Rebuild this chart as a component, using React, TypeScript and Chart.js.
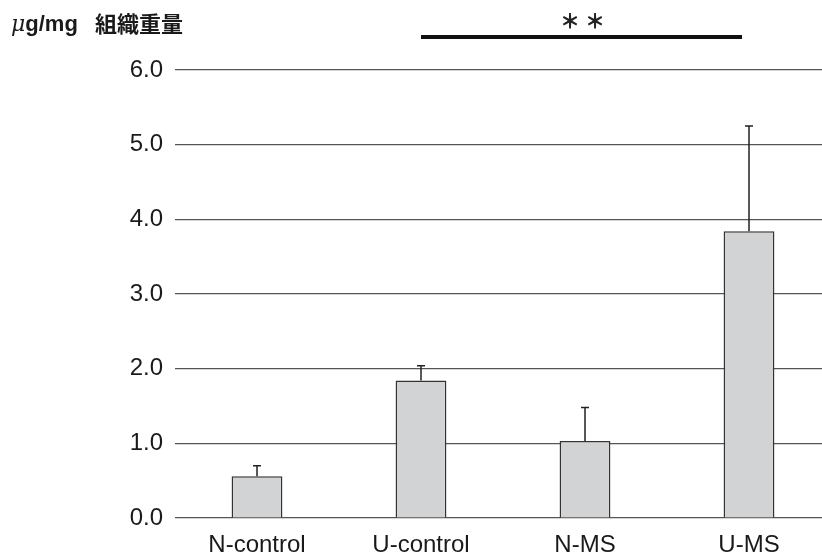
import React, { useEffect, useRef } from "react";
import { Chart, registerables } from "chart.js";

Chart.register(...registerables);

const categories = ["N-control", "U-control", "N-MS", "U-MS"];
const means = [0.56, 1.84, 1.03, 3.84];
const errUpper = [0.14, 0.2, 0.45, 1.41];
const yTicks = [0, 1, 2, 3, 4, 5, 6];
const unitLabelMu = "μ";
const unitLabelLatin = "g/mg";
const unitLabelCJK = "組織重量";
const sigMarks = ["＊", "＊"];
const sigFrom = 1;
const sigTo = 3;

const FONT = "'Liberation Sans', Arial, Helvetica, sans-serif";

const overlayPlugin = {
  id: "overlay",
  afterDatasetsDraw(chart: any) {
    const ctx = chart.ctx;
    const meta = chart.getDatasetMeta(0);
    const y = chart.scales.y;
    const x = chart.scales.x;
    ctx.save();
    // error bars
    ctx.strokeStyle = "#222";
    ctx.lineWidth = 1.5;
    meta.data.forEach((bar: any, i: number) => {
      const top = y.getPixelForValue(means[i] + errUpper[i]);
      const base = y.getPixelForValue(means[i]);
      ctx.beginPath();
      ctx.moveTo(bar.x, base);
      ctx.lineTo(bar.x, top);
      ctx.moveTo(bar.x - 4, top);
      ctx.lineTo(bar.x + 4, top);
      ctx.stroke();
    });
    // significance bar
    const x1 = x.getPixelForValue(sigFrom);
    const x2 = x.getPixelForValue(sigTo) - 7;
    ctx.fillStyle = "#111";
    ctx.fillRect(x1, 35, x2 - x1, 4);
    ctx.font = `900 20px 'Noto Sans CJK JP', ${FONT}`;
    ctx.textAlign = "center";
    ctx.textBaseline = "middle";
    ctx.fillStyle = "#222";
    const mid = (x1 + x2) / 2 + 1;
    sigMarks.forEach((m, i) => {
      ctx.fillText(m, mid + (i - (sigMarks.length - 1) / 2) * 25, 21);
    });
    // unit label
    ctx.textAlign = "left";
    ctx.textBaseline = "alphabetic";
    ctx.fillStyle = "#1a1a1a";
    ctx.font = `italic 22px 'DejaVu Serif', serif`;
    ctx.fillText(unitLabelMu, 11, 31);
    const cx = 11 + ctx.measureText(unitLabelMu).width;
    ctx.font = `bold 22px ${FONT}`;
    ctx.fillText(unitLabelLatin, cx, 31);
    ctx.font = `bold 22px 'Noto Sans CJK JP', sans-serif`;
    ctx.fillText(unitLabelCJK, 95, 32);
    ctx.restore();
  },
};

export default function App() {
  const ref = useRef<HTMLCanvasElement>(null);
  useEffect(() => {
    if (!ref.current) return;
    const chart = new Chart(ref.current, {
      type: "bar",
      data: {
        labels: categories,
        datasets: [
          {
            data: means,
            backgroundColor: "#d2d3d5",
            borderColor: "#333",
            borderWidth: 1.5,
            categoryPercentage: 1,
            barPercentage: 0.31,
          },
        ],
      },
      options: {
        animation: false,
        responsive: false,
        maintainAspectRatio: false,
        layout: { padding: { top: 70, right: 9, bottom: 0, left: 0 } },
        plugins: { legend: { display: false }, tooltip: { enabled: false } },
        scales: {
          x: {
            afterFit(scale: any) {
              scale.height = 40;
            },
            grid: { display: false, drawTicks: false },
            border: { display: false },
            ticks: {
              color: "#1a1a1a",
              font: { family: FONT, size: 24 },
              padding: 13,
              maxRotation: 0,
            },
          },
          y: {
            min: 0,
            max: 6,
            afterFit(scale: any) {
              scale.width = 175;
            },
            afterBuildTicks(scale: any) {
              scale.ticks = yTicks.map((v) => ({ value: v }));
            },
            grid: { color: "#555", lineWidth: 1.2, drawTicks: false },
            border: { display: false },
            ticks: {
              color: "#1a1a1a",
              font: { family: FONT, size: 24 },
              padding: 12,
              callback: (v: any) => Number(v).toFixed(1),
            },
          },
        },
      },
      plugins: [overlayPlugin],
    });
    return () => chart.destroy();
  }, []);
  return (
    <div style={{ position: "fixed", left: 0, top: 0, width: 822, height: 558, overflow: "hidden", background: "#fff" }}>
      <canvas ref={ref} width={840} height={558} style={{ display: "block" }} />
    </div>
  );
}
